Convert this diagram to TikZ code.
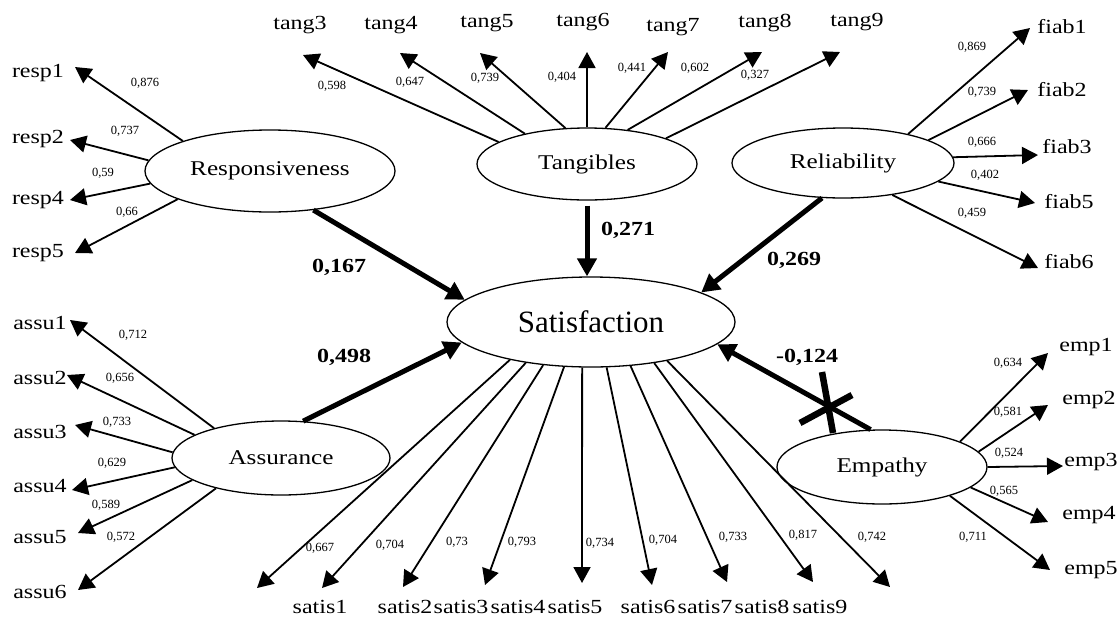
\documentclass[tikz,border=0pt]{standalone}
\usepackage{fontspec}
\setmainfont{Liberation Serif}[FakeStretch=1.2]
\newfontfamily\plainserif{Liberation Serif}
\usetikzlibrary{arrows.meta, shapes.geometric}

\begin{document}
\begin{tikzpicture}[x=1pt, y=-1pt,
    latent/.style={draw, ellipse, line width=1.3pt, inner sep=0pt, font=\fontsize{21}{21}\selectfont},
    item/.style={inner sep=1pt, font=\fontsize{20}{20}\selectfont},
    load/.style={inner sep=0pt, font=\plainserif\fontsize{12.5}{12.5}\selectfont},
    coef/.style={inner sep=0pt, font=\bfseries\fontsize{20}{20}\selectfont},
    ind/.style={-{Triangle[length=16pt, width=17pt]}, line width=1.8pt},
    effect/.style={-{Triangle[length=18pt, width=19pt]}, line width=5pt},
    cross/.style={line width=6.5pt}]
    \useasboundingbox (0,0) rectangle (1119,619);

    % Latent variables
    \node[latent, minimum width=250pt, minimum height=82pt] (resp) at (270,171) {Responsiveness};
    \node[latent, minimum width=220pt, minimum height=72pt] (tang) at (587,164) {Tangibles};
    \node[latent, minimum width=222pt, minimum height=70pt] (reli) at (843,163) {Reliability};
    \node[latent, minimum width=288pt, minimum height=90pt, font=\plainserif\fontsize{31}{31}\selectfont] (sat) at (591,322) {Satisfaction};
    \node[latent, minimum width=218pt, minimum height=74pt] (assu) at (281,458) {Assurance};
    \node[latent, minimum width=210pt, minimum height=74pt] (empa) at (882,467) {Empathy};

    % Responsiveness items
    \foreach \nm/\lbl/\lx/\ly/\ang/\tx/\ty/\vx/\vy/\val in {
        r1/resp1/38/73/161/75/67/145/83/{0,876},
        r2/resp2/38/139/175/70/140/125/131/{0,737},
        r4/resp4/38/200/186/70/200/103/173/{0,59},
        r5/resp5/38/253/197/75/253/127/212/{0,66}}
    {
        \node[item] (\nm) at (\lx,\ly) {\lbl};
        \coordinate (\nm-tip) at (\tx,\ty);
        \draw[ind] (resp.\ang) -- (\nm-tip);
        \node[load] (\nm-val) at (\vx,\vy) {\val};
    }

    % Tangibles items
    \foreach \nm/\lbl/\lx/\ly/\ang/\tx/\ty/\vx/\vy/\val in {
        t3/tang3/300/25/166/303/55/332/86/{0,598},
        t4/tang4/391/25/154/400/53/410/82/{0,647},
        t5/tang5/487/23/121/480/53/485/78/{0,739},
        t6/tang6/583/22/90/587/52/562/77/{0,404},
        t7/tang7/673/27/63/668/52/632/68/{0,441},
        t8/tang8/765/23/40/762/52/695/68/{0,602},
        t9/tang9/857/22/18/840/52/755/75/{0,327}}
    {
        \node[item] (\nm) at (\lx,\ly) {\lbl};
        \coordinate (\nm-tip) at (\tx,\ty);
        \draw[ind] (tang.\ang) -- (\nm-tip);
        \node[load] (\nm-val) at (\vx,\vy) {\val};
    }

    % Reliability items
    \foreach \nm/\lbl/\lx/\ly/\ang/\tx/\ty/\vx/\vy/\val in {
        f1/fiab1/1062/27/24/1030/28/972/47/{0,869},
        f2/fiab2/1062/90/15/1028/90/982/92/{0,739},
        f3/fiab3/1067/147/3/1038/155/982/142/{0,666},
        f5/fiab5/1069/202/349/1035/203/985/175/{0,402},
        f6/fiab6/1069/262/327/1038/268/972/213/{0,459}}
    {
        \node[item] (\nm) at (\lx,\ly) {\lbl};
        \coordinate (\nm-tip) at (\tx,\ty);
        \draw[ind] (reli.\ang) -- (\nm-tip);
        \node[load] (\nm-val) at (\vx,\vy) {\val};
    }

    % Assurance items
    \foreach \nm/\lbl/\lx/\ly/\ang/\tx/\ty/\vx/\vy/\val in {
        a1/assu1/40/323/156/70/320/133/335/{0,712},
        a2/assu2/40/378/165/67/375/120/378/{0,656},
        a3/assu3/40/432/177/75/425/117/422/{0,733},
        a4/assu4/40/486/185/72/490/112/463/{0,629},
        a5/assu5/40/537/194/78/533/106/505/{0,589},
        a6/assu6/40/592/205/78/590/121/537/{0,572}}
    {
        \node[item] (\nm) at (\lx,\ly) {\lbl};
        \coordinate (\nm-tip) at (\tx,\ty);
        \draw[ind] (assu.\ang) -- (\nm-tip);
        \node[load] (\nm-val) at (\vx,\vy) {\val};
    }

    % Empathy items
    \foreach \nm/\lbl/\lx/\ly/\ang/\tx/\ty/\vx/\vy/\val in {
        e1/emp1/1086/347/18/1048/353/1008/363/{0,634},
        e2/emp2/1089/400/9/1048/405/1008/412/{0,581},
        e3/emp3/1091/462/0/1063/466/1009/453/{0,524},
        e4/emp4/1089/515/347/1048/522/1004/491/{0,565},
        e5/emp5/1091/570/337/1050/570/973/537/{0,711}}
    {
        \node[item] (\nm) at (\lx,\ly) {\lbl};
        \coordinate (\nm-tip) at (\tx,\ty);
        \draw[ind] (empa.\ang) -- (\nm-tip);
        \node[load] (\nm-val) at (\vx,\vy) {\val};
    }

    % Satisfaction items
    \foreach \nm/\lbl/\lx/\ly/\ang/\tx/\ty/\vx/\vy/\val in {
        s1/satis1/320/607/205/257/588/320/548/{0,667},
        s2/satis2/405/607/212/322/588/390/545/{0,704},
        s3/satis3/461/607/222/403/587/457/542/{0,73},
        s4/satis4/518/607/239/485/585/522/542/{0,793},
        s5/satis5/575/607/259/582/583/600/543/{0,734},
        s6/satis6/648/607/289/652/585/663/540/{0,704},
        s7/satis7/705/607/312/727/582/733/537/{0,733},
        s8/satis8/762/607/327/813/582/803/535/{0,817},
        s9/satis9/820/607/333/890/587/872/537/{0,742}}
    {
        \node[item] (\nm) at (\lx,\ly) {\lbl};
        \coordinate (\nm-tip) at (\tx,\ty);
        \draw[ind] (sat.\ang) -- (\nm-tip);
        \node[load] (\nm-val) at (\vx,\vy) {\val};
    }

    % Structural paths
    \draw[effect] (resp.318) -- (sat.170);
    \draw[effect] ([yshift=-5pt]tang.south) -- (tang.south |- sat.north);
    \draw[effect] (reli.239) -- (sat.15);
    \draw[effect] (assu.59) -- (sat.189);
    \draw[effect] (empa.107) -- (sat.350);

    % Path coefficients
    \node[coef] (b-resp) at (339,267) {0,167};
    \node[coef] (b-tang) at (628,230) {0,271};
    \node[coef] (b-reli) at (794,260) {0,269};
    \node[coef] (b-assu) at (344,357) {0,498};
    \node[coef] (b-empa) at (807,357) {-0,124};

    % Non-significant mark
    \draw[cross] (822,372) -- (833,433) (800,423) -- (852,395);
\end{tikzpicture}
\end{document}
